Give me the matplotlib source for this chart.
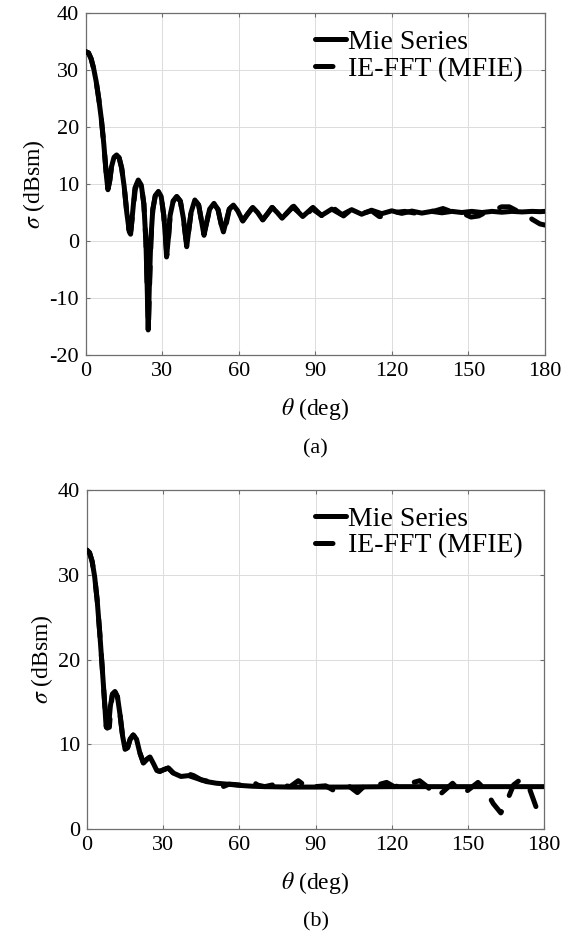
import matplotlib
matplotlib.use("Agg")
import matplotlib.pyplot as plt

plt.rcParams["font.family"] = ["Liberation Serif", "DejaVu Serif"]
plt.rcParams["mathtext.fontset"] = "stix"
plt.rcParams["axes.unicode_minus"] = False

# ---- (a) monostatic RCS, Mie series vs IE-FFT ----
theta_mie_a = [0, 1, 2, 3, 4, 5, 6, 7, 8, 8.6, 9.3, 10, 11, 12, 13, 14, 15, 16, 17, 17.5,
               18.3, 19.2, 20.5, 21.7, 22.7, 23.5, 24.0, 24.4, 24.9, 25.4, 26.2, 27.2, 28.4,
               29.5, 30.5, 31.2, 31.6, 32.2, 33.0, 34.2, 35.6, 37.0, 38.2, 39.0, 39.5, 40.2,
               41.2, 42.7, 44.2, 45.3, 46.3, 47.2, 48.5, 50.2, 51.8, 53.0, 53.9, 54.8, 56.2,
               57.8, 59.5, 61.5, 63.5, 65.4, 67.3, 69.3, 71.2, 73.0, 75.0, 76.9, 79.0, 81.0,
               83.0, 85.0, 88.5, 92.4, 96.4, 100.3, 104.2, 108.1, 112.0, 116.0, 119.9, 123.8,
               127.8, 131.7, 135.6, 139.6, 143.5, 147.4, 151.3, 155.3, 159.2, 163.1, 167.0,
               171.0, 174.9, 178.0, 180]
sigma_mie_a = [33.2, 33.0, 32.0, 30.3, 28.0, 25.0, 21.5, 17.0, 11.5, 9.0, 10.5, 13.0, 14.7,
               15.1, 14.6, 12.8, 9.5, 5.0, 1.6, 1.2, 5.0, 9.3, 10.7, 9.8, 6.5, 0.0, -8.0,
               -15.6, -7.0, 0.0, 5.5, 8.0, 8.7, 7.8, 4.5, 0.5, -2.8, 0.0, 4.5, 7.0, 7.8, 7.0,
               4.0, 1.0, -1.0, 1.5, 5.0, 7.2, 6.3, 3.5, 1.0, 3.0, 5.6, 6.6, 5.5, 3.0, 1.6,
               3.2, 5.6, 6.3, 5.3, 3.5, 4.8, 5.9, 5.0, 3.7, 4.8, 5.9, 5.0, 4.0, 5.0, 6.0,
               5.2, 4.3, 5.7, 4.5, 5.6, 4.6, 5.5, 4.7, 5.4, 4.8, 5.3, 4.85, 5.25, 4.9, 5.2,
               4.95, 5.2, 5.0, 5.2, 5.0, 5.2, 5.05, 5.2, 5.1, 5.2, 5.15, 5.2]

theta_ie_a = [0, 1, 2, 3, 4, 5, 6, 7, 8, 8.7, 9.4, 10, 11, 12, 13, 14, 15, 16, 16.8,
              17.6, 18.5, 19.3, 20.5, 21.7, 22.7, 23.5, 24.0, 24.5, 25.0, 25.5, 26.2, 27.2,
              28.4, 29.5, 30.5, 31.2, 31.7, 32.3, 33.0, 34.2, 35.6, 37.0, 38.2, 39.0, 39.6,
              40.2, 41.2, 42.7, 44.2, 45.3, 46.2, 47.2, 48.5, 50.2, 51.8, 53.0, 54.2, 55.0,
              56.2, 57.8, 59.5, 61.5, 63.5, 65.4, 67.3, 69.3, 71.2, 73.0, 75.0, 76.9, 79.0,
              81.5, 85.5, 89.0, 93.0, 97.0, 101.0, 104.0, 108.0, 112.0, 115.0, 118.0, 121.0,
              125.0, 129.0, 133.0, 137.0, 140.0, 143.0, 147.0, 151.0, 154.0, 157.0, 160.0,
              163.0, 166.0, 169.0, 172.0, 175.0, 178.0, 180]
sigma_ie_a = [33.2, 33.0, 32.0, 30.3, 28.0, 25.0, 21.5, 17.0, 11.5, 9.3, 10.8, 13.0, 14.7,
              15.1, 14.6, 12.8, 9.5, 5.0, 2.0, 1.8, 5.5, 9.0, 10.7, 9.8, 6.5, 0.0, -8.0,
              -15.2, -7.0, 0.0, 5.5, 8.0, 8.7, 7.8, 4.5, 0.5, -2.5, 0.0, 4.5, 7.0, 7.8, 7.0,
              4.0, 1.0, -0.8, 1.5, 5.0, 7.2, 6.3, 3.5, 1.2, 3.0, 5.6, 6.6, 5.5, 3.0, 1.5,
              3.0, 5.6, 6.3, 5.3, 3.6, 4.8, 5.9, 5.0, 3.7, 4.8, 5.9, 5.0, 4.0, 5.0, 6.1,
              4.0, 5.9, 4.2, 5.8, 4.4, 5.5, 4.8, 5.3, 4.3, 4.2, 5.0, 5.2, 4.9, 5.1, 5.3,
              5.7, 5.2, 5.0, 4.2, 4.4, 5.1, 5.4, 6.0, 6.0, 5.3, 4.8, 3.8, 3.0, 2.8]

# ---- (b) ----
theta_mie_b = [0, 1, 2, 3, 4, 5, 6, 6.8, 7.5, 8.0, 8.5, 9.2, 10, 11, 12, 13, 14, 15, 16, 17,
               18.2, 19.5, 20.8, 22.2, 23.5, 24.8, 26.2, 27.5, 28.7, 30.2, 32, 34, 37, 40,
               43, 47, 51, 55, 60, 65, 70, 80, 90, 100, 120, 140, 160, 180]
sigma_mie_b = [32.9, 32.6, 31.6, 29.8, 27.0, 23.2, 19.0, 15.5, 12.2, 11.9, 12.2, 14.5, 15.9,
               16.2, 15.6, 13.5, 11.0, 9.4, 9.6, 10.6, 11.1, 10.6, 9.0, 7.8, 8.2, 8.5, 7.7,
               6.9, 6.8, 7.0, 7.2, 6.6, 6.2, 6.3, 6.0, 5.6, 5.4, 5.3, 5.15, 5.05, 5.0, 4.95,
               4.95, 4.95, 5.0, 5.0, 5.0, 5.0]

theta_ie_b = [0, 1, 2, 3, 4, 5, 6, 6.8, 7.6, 8.3, 8.8, 9.4, 10, 11, 12, 13, 14, 15, 16, 17,
              18.2, 19.5, 20.8, 22.2, 23.5, 24.8, 26.2, 27.5, 28.7, 30.2, 32, 34, 37, 40,
              42, 45, 50, 53.6, 56, 60, 63, 65.5, 67, 70, 73, 75.4, 77, 80, 83.2, 85, 87.8,
              90, 94, 96.9, 100, 103, 106.5, 109, 113, 118, 121, 125, 131, 134, 138, 141,
              144, 148, 151, 154, 157, 160, 163, 165, 168, 171, 174, 177, 180]
sigma_ie_b = [32.9, 32.6, 31.6, 29.8, 27.0, 23.2, 19.0, 15.5, 12.0, 12.4, 12.0, 14.3, 15.9,
              16.2, 15.6, 13.5, 11.0, 9.4, 9.6, 10.6, 11.1, 10.6, 9.0, 7.8, 8.2, 8.5, 7.7,
              6.9, 6.8, 7.0, 7.2, 6.6, 6.4, 6.5, 6.3, 5.8, 5.5, 5.0, 5.3, 5.2, 5.0, 5.6,
              5.2, 5.0, 5.2, 5.7, 5.2, 5.0, 5.7, 5.3, 4.6, 5.0, 5.1, 4.6, 5.0, 5.1, 4.3,
              5.0, 5.1, 5.5, 5.0, 5.2, 5.7, 5.0, 3.8, 4.6, 5.4, 4.1, 4.8, 5.5, 4.6, 3.0,
              1.9, 3.0, 5.2, 5.9, 5.0, 2.5, 1.9]

xticks = [0, 30, 60, 90, 120, 150, 180]
yticks_a = [-20, -10, 0, 10, 20, 30, 40]
yticks_b = [0, 10, 20, 30, 40]

fig = plt.figure(figsize=(5.77, 9.36), dpi=100)
ax_a = fig.add_axes([0.149, 0.6207, 0.7955, 0.3654])
ax_b = fig.add_axes([0.1508, 0.1143, 0.792, 0.3622])

panels = [
    (ax_a, theta_mie_a, sigma_mie_a, theta_ie_a, sigma_ie_a, yticks_a, "(a)"),
    (ax_b, theta_mie_b, sigma_mie_b, theta_ie_b, sigma_ie_b, yticks_b, "(b)"),
]

for ax, tm, sm, ti, si, yt, tag in panels:
    ax.plot(tm, sm, color="black", lw=3.6, solid_joinstyle="round",
            solid_capstyle="round", label="Mie Series", zorder=3)
    ax.plot(ti, si, color="black", lw=3.6, linestyle=(0, (3.5, 3.6)),
            dash_capstyle="round", label="IE-FFT (MFIE)", zorder=4)
    ax.set_xlim(0, 180)
    ax.set_ylim(yt[0], yt[-1])
    ax.set_xticks(xticks)
    ax.set_yticks(yt)
    ax.grid(True, color="#dcdcdc", lw=0.7)
    ax.set_axisbelow(True)
    for sp in ax.spines.values():
        sp.set_color("#6e6e6e")
        sp.set_linewidth(0.9)
    ax.tick_params(direction="in", length=3, width=0.8, color="#6e6e6e",
                   labelsize=16, top=True, right=True, pad=5)
    ax.set_xlabel(r"$\theta$ (deg)", fontsize=17, labelpad=11)
    ax.set_ylabel(r"$\sigma$ (dBsm)", fontsize=17, labelpad=2)
    ax.text(0.5, -0.275, tag, transform=ax.transAxes, ha="center", va="center",
            fontsize=16)
    ax.legend(loc="upper left", bbox_to_anchor=(0.499, 0.952), frameon=False,
              fontsize=20, handlelength=1.1, handletextpad=0.08, borderpad=0,
              borderaxespad=0, labelspacing=0.05)

fig.savefig("out.png", dpi=100)
